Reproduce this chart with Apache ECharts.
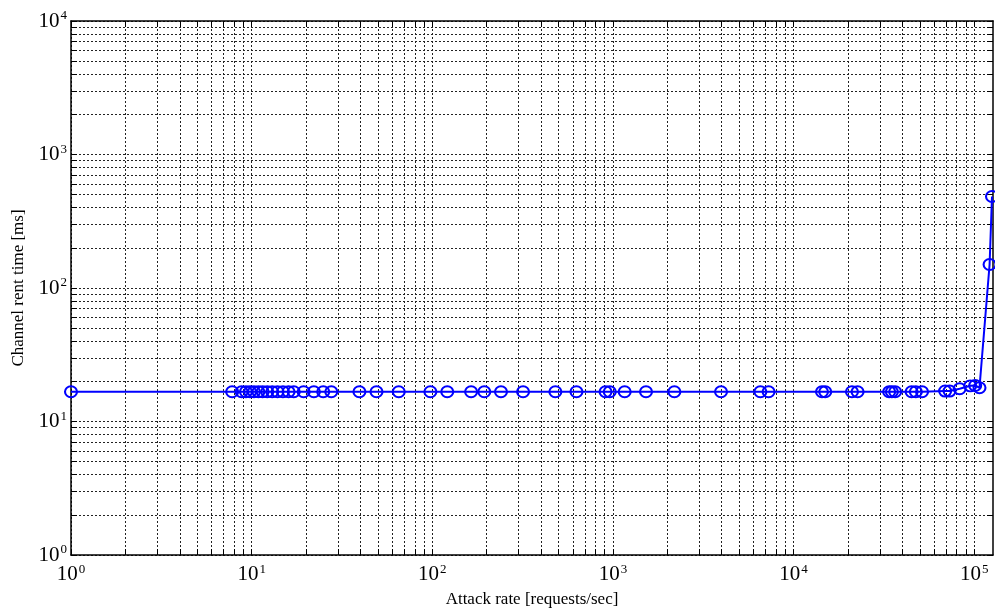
<!DOCTYPE html>
<html>
<head>
<meta charset="utf-8">
<script src="https://cdn.jsdelivr.net/npm/echarts@6/dist/echarts.min.js"></script>
<style>
  html, body { margin: 0; padding: 0; background: #fff; }
  #chart { width: 995px; height: 613px; }
</style>
</head>
<body>
<div id="chart"></div>
<script>
// Attack rate (requests/sec) for each measurement
const attackRate = [
  1, 7.8, 8.8, 9.3, 9.8, 10.3, 10.9, 11.5, 12.2, 13, 13.9, 14.9, 16, 17.1,
  19.4, 22.1, 24.9, 27.6, 39.5, 49.1, 65.2, 97.6, 121, 164, 194, 240, 318,
  480, 628, 910, 960, 1161, 1524, 2188, 3965, 6548, 7270, 14360, 14970,
  21040, 22600, 33800, 35000, 36500, 45000, 47500, 51400, 69000, 73000,
  83000, 95000, 101200, 106900, 121600, 125400
];
// Channel rent time (ms) measured at each attack rate
const rentTime = [
  16.7, 16.7, 16.7, 16.7, 16.7, 16.7, 16.7, 16.7, 16.7, 16.7, 16.7, 16.7, 16.7, 16.7,
  16.7, 16.7, 16.7, 16.7, 16.7, 16.7, 16.7, 16.7, 16.7, 16.7, 16.7, 16.7, 16.7,
  16.7, 16.7, 16.7, 16.7, 16.7, 16.7, 16.7, 16.7, 16.7, 16.7, 16.7, 16.7,
  16.7, 16.7, 16.7, 16.7, 16.7, 16.7, 16.7, 16.7, 16.9, 16.9,
  17.6, 18.5, 18.6, 17.9, 150, 485
];
// Decade tick labels
const xTickLabels = [1, 10, 100, 1000, 10000, 100000];
const yTickLabels = [1, 10, 100, 1000, 10000];
const xRange = [1, 127000];
const yRange = [1, 10000];

// 1..9 x 10^k positions for the log grid
function logGridValues(lo, hi) {
  const out = [];
  for (let d = 1; d <= hi; d *= 10) {
    for (let m = 1; m <= 9; m++) {
      const v = m * d;
      if (v >= lo && v <= hi) out.push(v);
    }
  }
  return out;
}

const FONT = 'Liberation Serif';
const powLabel = function (v) {
  const e = Math.round(Math.log10(v));
  return '{b|10}{s|' + e + '}';
};
const richPow = {
  b: { fontFamily: FONT, fontSize: 21, color: '#000' },
  s: { fontFamily: FONT, fontSize: 13, color: '#000', verticalAlign: 'top', padding: [0, 0, 10, 1] }
};
const gridLine = { show: true, lineStyle: { color: '#222', type: [2, 2], width: 1 } };
const frameLine = { show: true, onZero: false, lineStyle: { color: '#000', width: 1.5 } };

const xGrid = logGridValues(xRange[0], xRange[1]);
const yGrid = logGridValues(yRange[0], yRange[1]);

const chart = echarts.init(document.getElementById('chart'), null, { renderer: 'canvas' });
chart.setOption({
  animation: false,
  backgroundColor: '#fff',
  grid: { left: 71, right: 2, top: 21, bottom: 55, containLabel: false },
  xAxis: [
    {
      type: 'log', logBase: 10, min: xRange[0], max: xRange[1],
      position: 'bottom',
      name: 'Attack rate [requests/sec]', nameLocation: 'middle', nameGap: 36,
      nameTextStyle: { fontFamily: FONT, fontSize: 17, color: '#000' },
      axisLine: frameLine,
      axisTick: { show: true, inside: true, length: 6, customValues: xGrid, lineStyle: { color: '#000' } },
      axisLabel: { customValues: xTickLabels, formatter: powLabel, rich: richPow, margin: 8 },
      splitLine: gridLine,
      minorTick: { show: false }
    },
    {
      type: 'log', logBase: 10, min: xRange[0], max: xRange[1],
      position: 'top',
      axisLine: frameLine,
      axisTick: { show: true, inside: true, length: 6, customValues: xGrid, lineStyle: { color: '#000' } },
      axisLabel: { show: false },
      splitLine: { show: false }
    }
  ],
  yAxis: [
    {
      type: 'log', logBase: 10, min: yRange[0], max: yRange[1],
      position: 'left',
      name: 'Channel rent time [ms]', nameLocation: 'middle', nameGap: 44, nameRotate: 90,
      nameTextStyle: { fontFamily: FONT, fontSize: 17, color: '#000' },
      axisLine: frameLine,
      axisTick: { show: true, inside: true, length: 6, customValues: yGrid, lineStyle: { color: '#000' } },
      axisLabel: { customValues: yTickLabels, formatter: powLabel, rich: richPow, margin: 4 },
      splitLine: gridLine
    },
    {
      type: 'log', logBase: 10, min: yRange[0], max: yRange[1],
      position: 'right',
      axisLine: frameLine,
      axisTick: { show: true, inside: true, length: 6, customValues: yGrid, lineStyle: { color: '#000' } },
      axisLabel: { show: false },
      splitLine: { show: false }
    }
  ],
  series: [
    {
      type: 'line',
      xAxisIndex: 0, yAxisIndex: 0,
      data: attackRate.map((x, i) => [x, rentTime[i]]),
      symbol: 'circle',
      symbolSize: [12, 11],
      showAllSymbol: true,
      clip: false,
      lineStyle: { color: '#0000ff', width: 2 },
      itemStyle: { color: 'rgba(0,0,0,0)', borderColor: '#0000ff', borderWidth: 2 }
    }
  ]
});
</script>
</body>
</html>
